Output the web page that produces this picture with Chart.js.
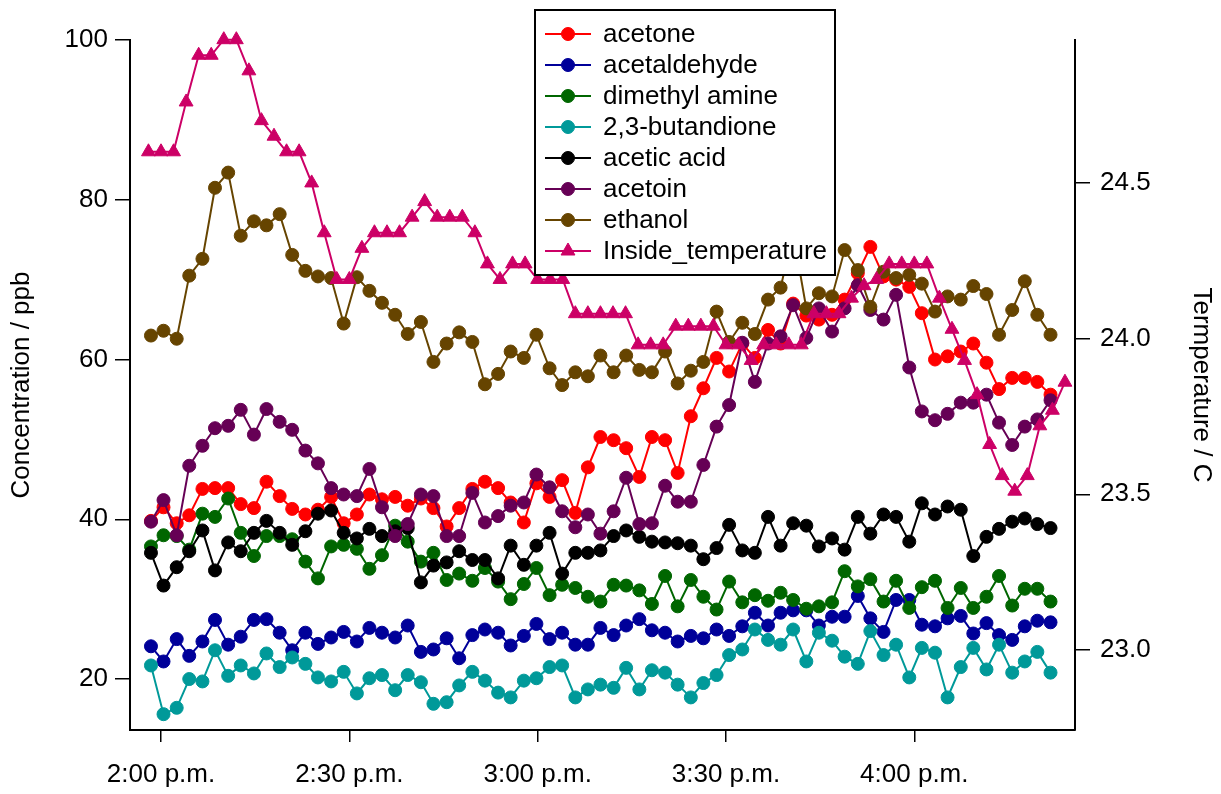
<!DOCTYPE html>
<html>
<head>
<meta charset="utf-8">
<title>VOC concentrations and inside temperature</title>
<script src="https://cdn.jsdelivr.net/npm/chart.js@4.4.0/dist/chart.umd.min.js"></script>
<style>
  html, body { margin: 0; padding: 0; background: #fff; }
  #wrap { width: 1221px; height: 794px; }
</style>
</head>
<body>
<div id="wrap"><canvas id="grafico" width="1221" height="794"></canvas></div>
<script>
// tiempos en minutos desde las 2:00 p.m.
const vocTimes = [-1.6, 0.4, 2.5, 4.5, 6.6, 8.6, 10.7, 12.7, 14.8, 16.8, 18.9, 20.9, 23.0, 25.0, 27.1, 29.1,
  31.2, 33.2, 35.2, 37.3, 39.3, 41.4, 43.4, 45.5, 47.5, 49.6, 51.6, 53.7, 55.7, 57.8, 59.8, 61.9, 63.9, 66.0,
  68.0, 70.0, 72.1, 74.1, 76.2, 78.2, 80.3, 82.3, 84.4, 86.4, 88.5, 90.5, 92.6, 94.6, 96.7, 98.7, 100.7,
  102.8, 104.8, 106.9, 108.9, 111.0, 113.0, 115.1, 117.1, 119.2, 121.2, 123.3, 125.3, 127.4, 129.4, 131.5,
  133.5, 135.6, 137.6, 139.6, 141.7];
const tempTimes = [-2, 0, 2, 4, 6, 8, 10, 12, 14, 16, 18, 20, 22, 24, 26, 28, 30, 32, 34, 36, 38, 40, 42, 44,
  46, 48, 50, 52, 54, 56, 58, 60, 62, 64, 66, 68, 70, 72, 74, 76, 78, 80, 82, 84, 86, 88, 90, 92, 94, 96, 98,
  100, 102, 104, 106, 108, 110, 112, 114, 116, 118, 120, 122, 124, 126, 128, 130, 132, 134, 136, 138, 140,
  142, 144];

// valores en ppb
const acetone = [39.8, 41.5, 39.5, 40.5, 43.8, 43.9, 43.9, 41.9, 41.4, 44.7, 42.9, 41.3, 40.6, 41.2, 42.8,
  39.5, 40.6, 43.1, 42.5, 42.8, 41.7, 42.6, 41.4, 39.1, 41.4, 43.8, 44.7, 43.9, 42.1, 39.6, 44.5, 42.8, 44.9,
  40.8, 46.5, 50.3, 49.9, 48.9, 45.3, 50.3, 49.9, 45.8, 52.9, 56.4, 60.2, 58.5, 62.0, 60.2, 63.7, 62.0, 67.0,
  65.5, 65.0, 65.6, 67.5, 70.8, 74.1, 70.4, 70.0, 69.1, 65.8, 60.0, 60.4, 61.0, 62.0, 59.6, 56.3, 57.7, 57.7,
  57.2, 55.6];
const acetaldehyde = [24.1, 22.2, 25.0, 22.9, 24.7, 27.4, 24.3, 25.3, 27.4, 27.5, 25.8, 23.6, 25.8, 24.4, 25.2,
  25.9, 24.7, 26.4, 25.8, 25.2, 26.7, 23.4, 23.7, 25.1, 22.6, 25.5, 26.2, 25.8, 24.2, 25.4, 26.9, 25.0, 25.8,
  24.3, 24.3, 26.4, 25.5, 26.7, 27.5, 26.1, 25.8, 24.7, 25.4, 25.1, 26.2, 25.4, 26.6, 28.3, 26.7, 28.3, 28.6,
  28.6, 26.7, 27.8, 27.8, 30.4, 27.6, 25.9, 29.9, 29.9, 26.8, 26.6, 27.6, 27.9, 25.7, 27.0, 25.5, 24.9, 26.6,
  27.3, 27.1];
const dimethylAmine = [36.6, 38.0, 37.9, 36.2, 40.7, 40.3, 42.6, 38.3, 35.4, 37.9, 37.9, 37.5, 34.7, 32.6, 36.6,
  36.8, 36.3, 33.8, 35.5, 39.2, 37.2, 34.7, 35.8, 32.4, 33.2, 32.3, 33.9, 32.2, 30.0, 31.9, 33.9, 30.5, 31.8,
  31.4, 30.3, 29.7, 31.8, 31.7, 31.1, 29.4, 32.9, 29.1, 32.4, 30.3, 28.7, 32.2, 29.6, 30.5, 29.8, 30.8, 29.9,
  28.8, 29.1, 29.6, 33.5, 31.6, 32.5, 29.7, 32.3, 28.9, 31.5, 32.3, 28.9, 31.4, 28.9, 30.3, 32.9, 29.2, 31.3,
  31.3, 29.7];
const butandione = [21.7, 15.6, 16.4, 20.0, 19.7, 23.6, 20.4, 21.7, 20.7, 23.2, 21.5, 22.7, 21.9, 20.2, 19.7,
  20.9, 18.2, 20.1, 20.5, 18.6, 20.5, 19.6, 16.9, 17.1, 19.2, 20.9, 19.8, 18.3, 17.7, 19.8, 20.1, 21.5, 21.7,
  17.7, 18.7, 19.3, 18.9, 21.4, 18.7, 21.1, 20.8, 19.3, 17.7, 19.5, 20.5, 23.0, 23.7, 26.2, 24.9, 24.3, 26.2,
  22.2, 25.8, 24.8, 22.8, 21.9, 26.0, 23.0, 24.3, 20.2, 23.9, 23.3, 17.7, 21.5, 23.9, 21.2, 24.3, 20.8, 22.2,
  23.4, 20.8];
const aceticAcid = [35.8, 31.7, 34.0, 36.0, 38.6, 33.6, 37.1, 36.0, 38.3, 39.8, 38.3, 36.8, 38.5, 40.7, 41.1,
  38.3, 37.6, 38.8, 37.9, 38.5, 38.9, 32.1, 34.2, 34.6, 36.0, 34.9, 34.9, 32.6, 36.7, 34.3, 36.7, 38.3, 33.2,
  35.8, 35.8, 36.1, 37.9, 38.6, 37.8, 37.2, 37.1, 37.0, 36.7, 35.0, 36.4, 39.3, 36.1, 35.8, 40.3, 36.7, 39.5,
  39.2, 36.6, 37.6, 36.2, 40.3, 38.2, 40.6, 40.3, 37.2, 42.0, 40.6, 41.6, 41.2, 35.4, 37.8, 38.8, 39.7, 40.1,
  39.4, 38.9];
const acetoin = [39.7, 42.4, 38.0, 46.7, 49.2, 51.4, 51.7, 53.7, 50.6, 53.8, 52.2, 51.2, 48.6, 47.0, 43.9,
  43.1, 42.9, 46.3, 41.5, 37.9, 39.4, 43.1, 42.9, 37.9, 37.9, 43.3, 39.6, 40.4, 41.7, 42.1, 45.6, 44.0, 41.0,
  39.0, 40.6, 38.2, 41.0, 45.2, 39.4, 39.5, 44.2, 42.2, 42.2, 46.8, 51.6, 54.3, 62.1, 57.2, 62.0, 62.9, 66.8,
  62.7, 66.4, 63.5, 66.4, 69.3, 66.2, 65.0, 68.1, 59.0, 53.5, 52.4, 53.2, 54.6, 54.6, 55.6, 52.1, 49.3, 51.6,
  52.5, 54.9];
const ethanol = [63.0, 63.6, 62.6, 70.5, 72.6, 81.5, 83.4, 75.5, 77.3, 76.8, 78.2, 73.1, 71.1, 70.4, 70.2,
  64.5, 70.3, 68.6, 67.1, 65.6, 63.2, 64.7, 59.7, 62.0, 63.4, 62.2, 56.9, 58.2, 61.0, 60.2, 63.1, 58.9, 56.8,
  58.4, 57.9, 60.5, 58.4, 60.5, 58.7, 58.4, 61.0, 57.0, 58.6, 59.7, 66.0, 62.2, 64.6, 63.2, 67.5, 69.0, 75.8,
  66.4, 68.3, 67.9, 73.7, 71.2, 66.6, 71.0, 70.2, 70.6, 69.5, 66.0, 67.9, 67.5, 69.2, 68.2, 63.1, 66.2, 69.8,
  65.6, 63.1];
// temperatura en C (eje derecho)
const insideTemp = [24.60, 24.60, 24.60, 24.76, 24.91, 24.91, 24.96, 24.96, 24.86, 24.70, 24.65, 24.60, 24.60,
  24.50, 24.34, 24.19, 24.19, 24.29, 24.34, 24.34, 24.34, 24.39, 24.44, 24.39, 24.39, 24.39, 24.34, 24.24,
  24.19, 24.24, 24.24, 24.19, 24.19, 24.19, 24.08, 24.08, 24.08, 24.08, 24.08, 23.98, 23.98, 23.98, 24.04,
  24.04, 24.04, 24.04, 23.98, 23.98, 23.93, 23.98, 23.98, 23.98, 23.98, 24.08, 24.08, 24.08, 24.13, 24.17,
  24.19, 24.24, 24.24, 24.24, 24.24, 24.13, 24.03, 23.93, 23.82, 23.66, 23.56, 23.51, 23.56, 23.72, 23.77,
  23.86];

const seriesNames = ['acetone', 'acetaldehyde', 'dimethyl amine', '2,3-butandione', 'acetic acid', 'acetoin', 'ethanol'];
const seriesColors = ['#ff0000', '#000099', '#006600', '#009999', '#000000', '#660055', '#664400'];
const tempName = 'Inside_temperature';
const tempColor = '#cc0066';

const xTickMinutes = [0, 30, 60, 90, 120];
const xTickLabels = ['2:00 p.m.', '2:30 p.m.', '3:00 p.m.', '3:30 p.m.', '4:00 p.m.'];
const leftTicks = [20, 40, 60, 80, 100];
const rightTicks = [23.0, 23.5, 24.0, 24.5];

const FONT = '"Liberation Sans", Arial, Helvetica, sans-serif';

function toXY(times, vals) {
  return vals.map((v, i) => ({ x: times[i], y: v }));
}

const vocSeries = [acetone, acetaldehyde, dimethylAmine, butandione, aceticAcid, acetoin, ethanol];

const datasets = vocSeries.map((vals, k) => ({
  label: seriesNames[k],
  data: toXY(vocTimes, vals),
  yAxisID: 'y',
  borderColor: seriesColors[k],
  backgroundColor: seriesColors[k],
  pointBackgroundColor: seriesColors[k],
  pointBorderColor: seriesColors[k],
  borderWidth: 2,
  pointStyle: 'circle',
  pointRadius: 6.5,
  pointBorderWidth: 1,
  order: 7 - k,   // los últimos quedan encima
  clip: false
}));

datasets.push({
  label: tempName,
  data: toXY(tempTimes, insideTemp),
  yAxisID: 'y2',
  borderColor: tempColor,
  backgroundColor: tempColor,
  pointBackgroundColor: tempColor,
  pointBorderColor: tempColor,
  borderWidth: 2,
  pointStyle: 'triangle',
  pointRadius: 8,
  pointBorderWidth: 1,
  order: 0,
  clip: false
});

// marcador para la leyenda
function marcador(ctx, style, r, x, y) {
  ctx.beginPath();
  if (style === 'triangle') {
    let rad = 0;
    ctx.moveTo(x + Math.sin(rad) * r, y - Math.cos(rad) * r);
    rad += 2 * Math.PI / 3;
    ctx.lineTo(x + Math.sin(rad) * r, y - Math.cos(rad) * r);
    rad += 2 * Math.PI / 3;
    ctx.lineTo(x + Math.sin(rad) * r, y - Math.cos(rad) * r);
    ctx.closePath();
  } else {
    ctx.arc(x, y, r, 0, Math.PI * 2);
  }
  ctx.fill();
  ctx.stroke();
}

// leyenda dibujada dentro del área, con fondo blanco
const leyendaCaja = {
  id: 'leyendaCaja',
  afterDraw(chart) {
    const ctx = chart.ctx;
    const box = { x: 535, y: 10, w: 300, h: 265 };
    ctx.save();
    ctx.fillStyle = '#fff';
    ctx.fillRect(box.x, box.y, box.w, box.h);
    ctx.strokeStyle = '#000';
    ctx.lineWidth = 2;
    ctx.strokeRect(box.x, box.y, box.w, box.h);
    ctx.font = '26px ' + FONT;
    ctx.textBaseline = 'middle';
    ctx.textAlign = 'left';
    chart.data.datasets.forEach((ds, i) => {
      const y = 34 + i * 31;
      ctx.strokeStyle = ds.borderColor;
      ctx.fillStyle = ds.borderColor;
      ctx.lineWidth = 2;
      ctx.beginPath();
      ctx.moveTo(545, y);
      ctx.lineTo(591, y);
      ctx.stroke();
      ctx.lineWidth = 1;
      marcador(ctx, ds.pointStyle, ds.pointRadius, 568, y);
      ctx.fillStyle = '#000';
      ctx.fillText(ds.label, 603, y + 1);
    });
    ctx.restore();
  }
};

const tickFont = { family: FONT, size: 26 };

const chart = new Chart(document.getElementById('grafico').getContext('2d'), {
  type: 'line',
  data: { datasets: datasets },
  options: {
    responsive: false,
    devicePixelRatio: 1,
    animation: false,
    layout: { padding: { top: 40, left: 0, right: 0, bottom: 0 } },
    elements: { line: { tension: 0 } },
    plugins: { legend: { display: false }, tooltip: { enabled: false } },
    scales: {
      x: {
        type: 'linear',
        position: 'bottom',
        min: -4.94,
        max: 145.6,
        bounds: 'data',
        afterBuildTicks: s => { s.ticks = xTickMinutes.map(v => ({ value: v })); },
        afterFit: s => { s.height = 64; },
        ticks: {
          font: tickFont, color: '#000', padding: 17, maxRotation: 0, autoSkip: false,
          callback: v => { const k = xTickMinutes.indexOf(v); return k >= 0 ? xTickLabels[k] : ''; }
        },
        grid: { drawOnChartArea: false, drawTicks: true, tickLength: 12, color: '#000', lineWidth: 1.5 },
        border: { display: true, color: '#000', width: 2 }
      },
      y: {
        type: 'linear',
        position: 'left',
        min: 13.62,
        max: 100,
        bounds: 'data',
        afterBuildTicks: s => { s.ticks = leftTicks.map(v => ({ value: v })); },
        afterFit: s => { s.width = 130; },
        ticks: { font: tickFont, color: '#000', padding: 7, callback: v => String(v) },
        grid: { drawOnChartArea: false, drawTicks: true, tickLength: 15, color: '#000', lineWidth: 1.5 },
        border: { display: true, color: '#000', width: 2 },
        title: { display: true, text: 'Concentration / ppb', font: tickFont, color: '#000', padding: { top: 6, bottom: 0 } }
      },
      y2: {
        type: 'linear',
        position: 'right',
        min: 22.743,
        max: 24.959,
        bounds: 'data',
        afterBuildTicks: s => { s.ticks = rightTicks.map(v => ({ value: v })); },
        afterFit: s => { s.width = 146; },
        ticks: { font: tickFont, color: '#000', padding: 10, callback: v => Number(v).toFixed(1) },
        grid: { drawOnChartArea: false, drawTicks: true, tickLength: 15, color: '#000', lineWidth: 1.5 },
        border: { display: true, color: '#000', width: 2 },
        title: { display: true, text: 'Termperature / C', font: tickFont, color: '#000', padding: { top: 4, bottom: 0 } }
      }
    }
  },
  plugins: [leyendaCaja]
});
</script>
</body>
</html>
